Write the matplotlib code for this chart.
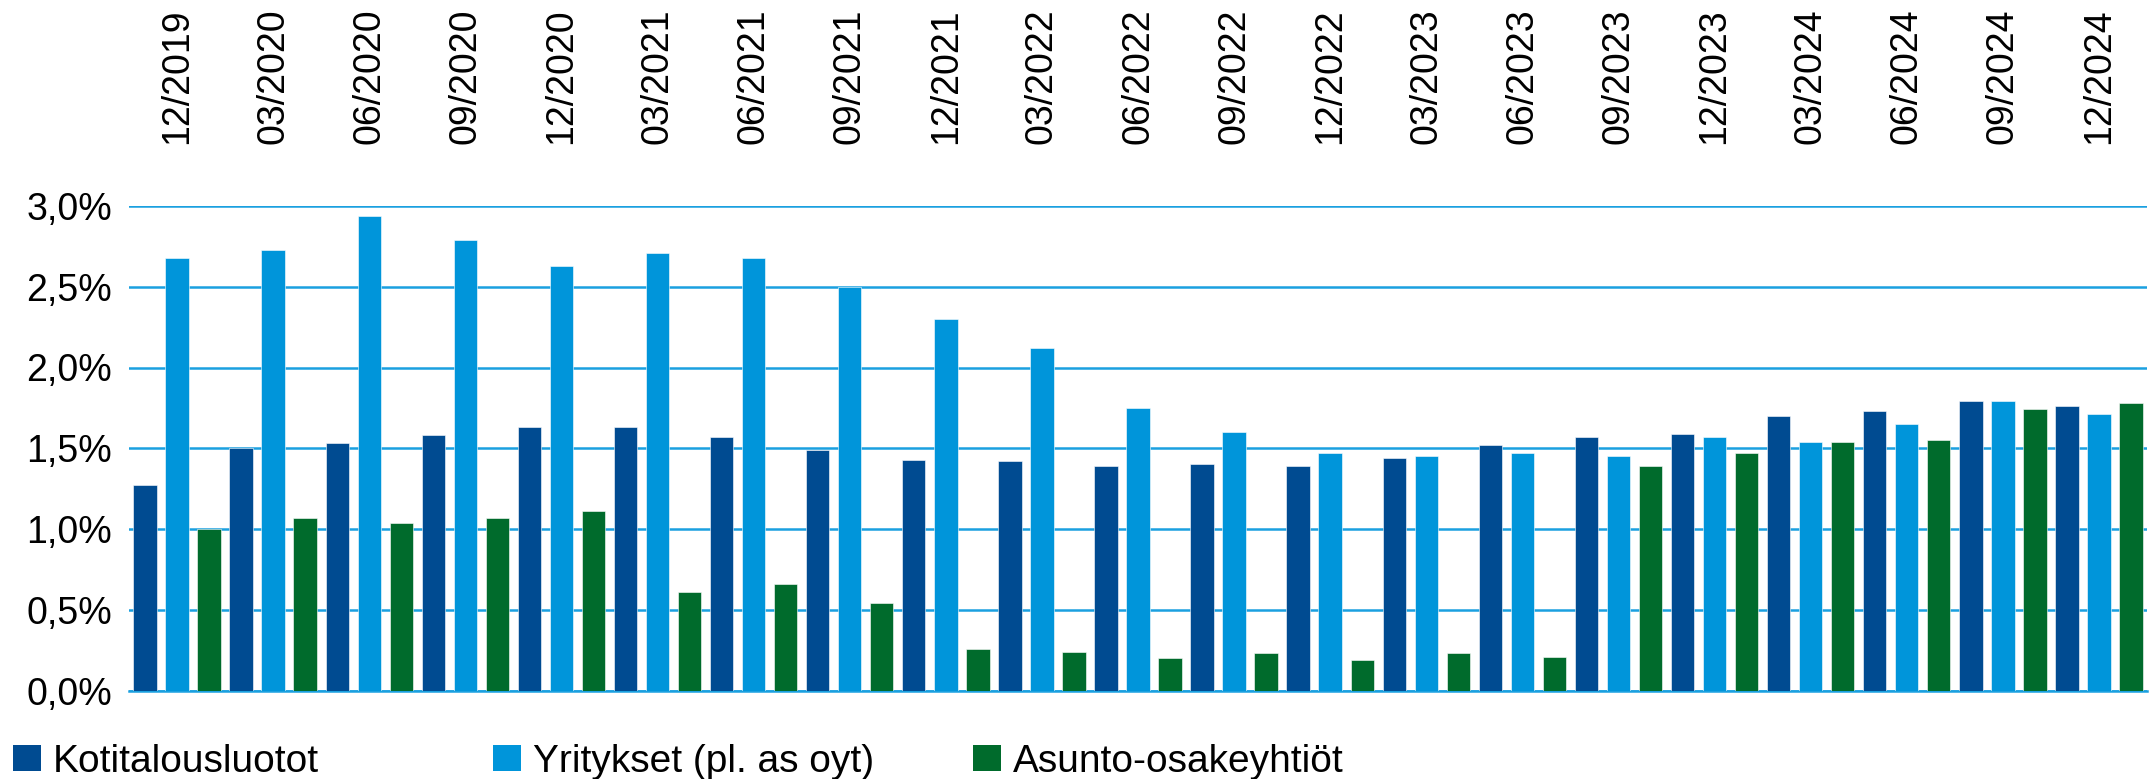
import matplotlib.pyplot as plt
from matplotlib.patches import Patch
import numpy as np

quarters = ['12/2019', '03/2020', '06/2020', '09/2020', '12/2020', '03/2021', '06/2021',
            '09/2021', '12/2021', '03/2022', '06/2022', '09/2022', '12/2022', '03/2023',
            '06/2023', '09/2023', '12/2023', '03/2024', '06/2024', '09/2024', '12/2024']

kotitaloudet = [1.27, 1.50, 1.53, 1.58, 1.63, 1.63, 1.57, 1.49, 1.43, 1.42, 1.39,
                1.40, 1.39, 1.44, 1.52, 1.57, 1.59, 1.70, 1.73, 1.79, 1.76]
yritykset = [2.68, 2.73, 2.94, 2.79, 2.63, 2.71, 2.68, 2.50, 2.30, 2.12, 1.75,
             1.60, 1.47, 1.45, 1.47, 1.45, 1.57, 1.54, 1.65, 1.79, 1.71]
asunto_oy = [1.00, 1.07, 1.04, 1.07, 1.11, 0.61, 0.66, 0.54, 0.26, 0.24, 0.20,
             0.23, 0.19, 0.23, 0.21, 1.39, 1.47, 1.54, 1.55, 1.74, 1.78]

series = [('Kotitalousluotot', kotitaloudet, '#004B91'),
          ('Yritykset (pl. as oyt)', yritykset, '#0095DA'),
          ('Asunto-osakeyhtiöt', asunto_oy, '#006B2C')]
grid_col = '#1AA0E0'

plt.rcParams['font.family'] = ['Liberation Sans', 'DejaVu Sans']

fig = plt.figure(figsize=(21.53, 7.79), dpi=100)
ax = fig.add_axes([129 / 2153, 88.5 / 779, 2018 / 2153, 484.5 / 779])

n = len(quarters)
base = np.arange(n) * 3
for k, (name, vals, col) in enumerate(series):
    ax.bar(base + k, vals, width=0.73, color=col, edgecolor='white', linewidth=0.4, zorder=3)

ax.set_xlim(-0.5, 3 * n - 0.5)
ax.set_ylim(0, 3.0)
ax.set_yticks(np.arange(0, 3.01, 0.5))
ax.set_yticklabels([f'{v:.1f}%'.replace('.', ',') for v in np.arange(0, 3.01, 0.5)])
ax.yaxis.grid(True, color=grid_col, linewidth=1.8, zorder=0)
ax.set_axisbelow(True)

ax.xaxis.tick_top()
ax.set_xticks(base + 1)
ax.set_xticklabels(quarters, rotation=90)
ax.tick_params(axis='x', length=0, pad=45, labelsize=27)
ax.tick_params(axis='y', length=0, pad=12, labelsize=27)

for s in ['top', 'left', 'right']:
    ax.spines[s].set_visible(False)
ax.spines['bottom'].set_color(grid_col)
ax.spines['bottom'].set_linewidth(1.8)

# one legend per entry, fixed column starts like the original
for (name, vals, col), x0 in zip(series, [13, 493, 973]):
    fig.legend(handles=[Patch(facecolor=col, label=name)], loc='center left',
               bbox_to_anchor=(x0 / 2153, 17 / 779), frameon=False, fontsize=28,
               borderpad=0, borderaxespad=0, handlelength=0.72, handleheight=0.65,
               handletextpad=0.3)

plt.savefig('out.png')
